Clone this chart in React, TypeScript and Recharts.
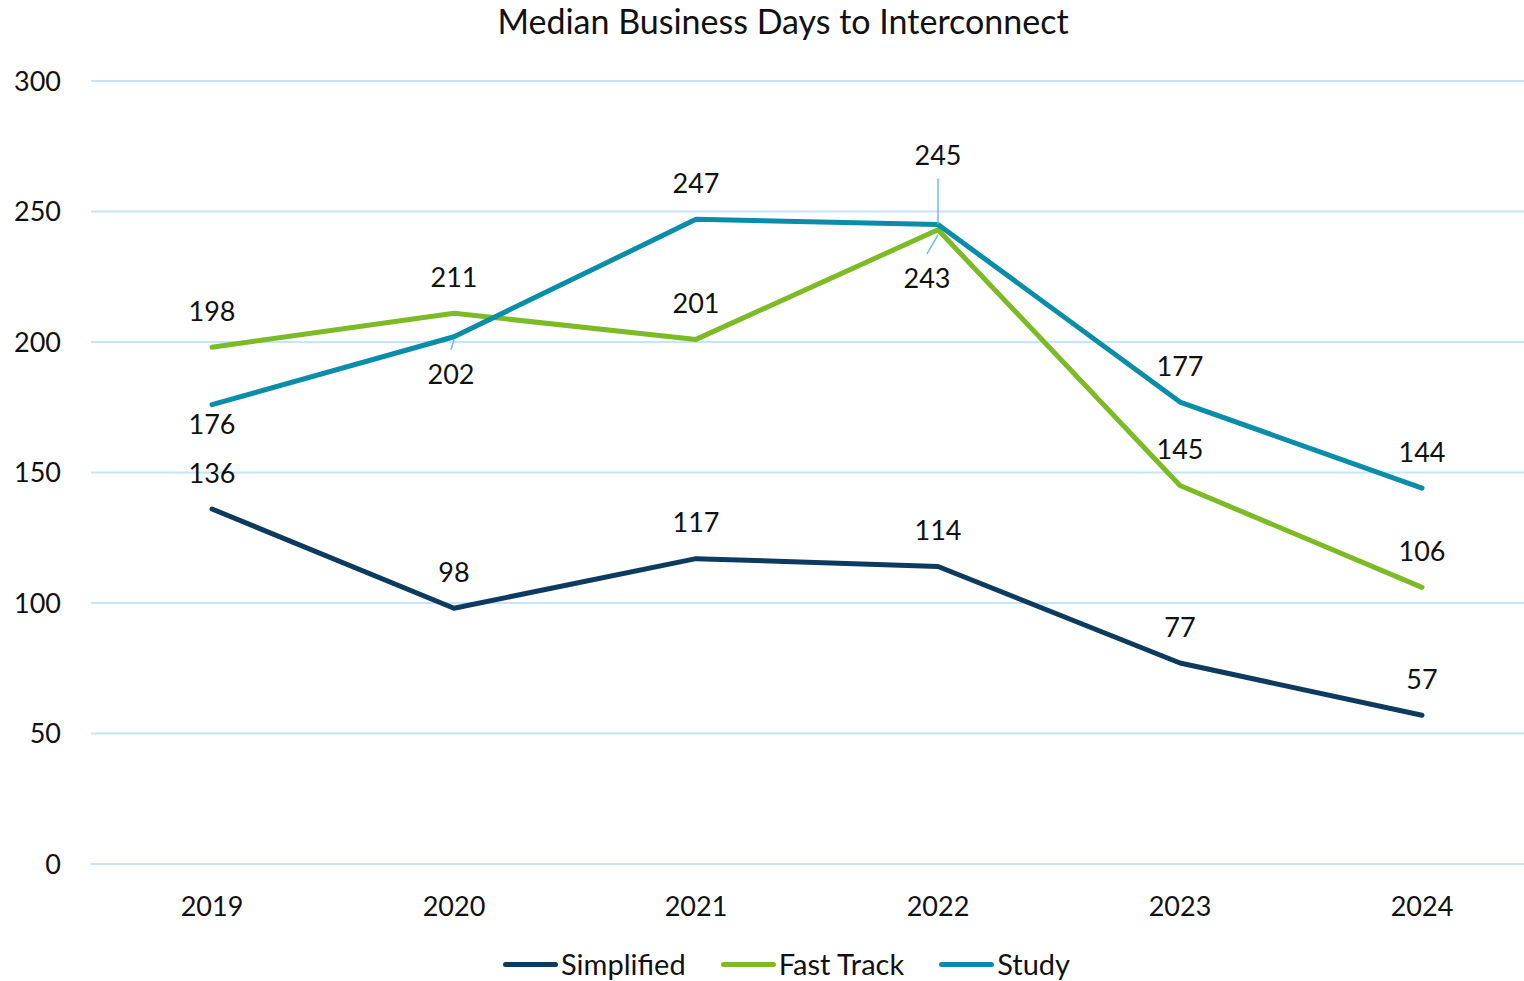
import { LineChart, Line, XAxis, YAxis, CartesianGrid, Legend, LabelList } from "recharts";

const years = ["2019", "2020", "2021", "2022", "2023", "2024"];
const simplified = [136, 98, 117, 114, 77, 57];
const fastTrack = [198, 211, 201, 243, 145, 106];
const study = [176, 202, 247, 245, 177, 144];
const yTicks = [0, 50, 100, 150, 200, 250, 300];

const seriesInfo = [
  { key: "simplified", name: "Simplified", color: "#0d3a5f" },
  { key: "fastTrack", name: "Fast Track", color: "#7dbb26" },
  { key: "study", name: "Study", color: "#0a8da9" },
];

const data = years.map((year, i) => ({
  year,
  simplified: simplified[i],
  fastTrack: fastTrack[i],
  study: study[i],
}));

const FONT = "Lato, 'Noto Sans', sans-serif";
const LEADER = "#6cbdf0";

// where each data label sits relative to its point (dy to label centre)
type Place = { dx?: number; dy: number; leader?: [number, number, number, number] };
const above: Place = { dy: -37 };
const placements: Record<string, Place[]> = {
  simplified: [above, above, above, above, above, above],
  fastTrack: [above, above, above, { dx: -11, dy: 48, leader: [0, 5, -11, 24] }, above, above],
  study: [
    { dy: 19 },
    { dx: -3, dy: 37, leader: [0, 3, -3, 13] },
    above,
    { dy: -70, leader: [0, -46, 0, 0] },
    above,
    above,
  ],
};

const makeLabel = (key: string) => (props: any) => {
  const { x, y, value, index } = props;
  const p = placements[key][index] || above;
  const dx = p.dx || 0;
  return (
    <g key={`${key}-${index}`}>
      {p.leader && (
        <line
          x1={x + p.leader[0]}
          y1={y + p.leader[1]}
          x2={x + p.leader[2]}
          y2={y + p.leader[3]}
          stroke={LEADER}
          strokeWidth={1.5}
        />
      )}
      <text
        x={x + dx}
        y={y + p.dy}
        textAnchor="middle"
        dominantBaseline="central"
        fill="#111"
        fontSize={27}
        fontFamily={FONT}
      >
        {value}
      </text>
    </g>
  );
};

const renderLegend = () => (
  <div
    style={{
      display: "flex",
      justifyContent: "center",
      alignItems: "center",
      gap: 35,
      paddingTop: 27,
      fontFamily: FONT,
      fontSize: 29,
      lineHeight: "32px",
      color: "#111",
      paddingLeft: 30,
    }}
  >
    {seriesInfo.map((s) => (
      <span key={s.key} style={{ display: "flex", alignItems: "center" }}>
        <span
          style={{
            display: "inline-block",
            width: 55,
            height: 5,
            borderRadius: 3,
            background: s.color,
            marginRight: 3,
          }}
        />
        {s.name}
      </span>
    ))}
  </div>
);

export default function App() {
  return (
    <div
      style={{
        position: "fixed",
        top: 0,
        left: 0,
        width: 1524,
        height: 981,
        overflow: "hidden",
        background: "#fff",
      }}
    >
      <div
        style={{
          position: "absolute",
          top: 0,
          left: 0,
          width: 1566,
          textAlign: "center",
          fontFamily: FONT,
          fontSize: 34,
          color: "#111",
          zIndex: 2,
        }}
      >
        Median Business Days to Interconnect
      </div>
      <LineChart
        width={1543}
        height={981}
        data={data}
        margin={{ top: 81, right: 0, left: 0, bottom: 0 }}
      >
        <CartesianGrid vertical={false} stroke="#c6e4fa" strokeWidth={2} />
        <XAxis
          dataKey="year"
          height={57}
          axisLine={false}
          tickLine={false}
          padding={{ left: 121, right: 121 }}
          tickMargin={27}
          tick={{ fill: "#111", fontSize: 27, fontFamily: FONT }}
        />
        <YAxis
          width={91}
          domain={[0, 300]}
          ticks={yTicks}
          axisLine={false}
          tickLine={false}
          tickMargin={24}
          tick={{ fill: "#111", fontSize: 27, fontFamily: FONT }}
        />
        <Legend
          verticalAlign="bottom"
          content={renderLegend}
          wrapperStyle={{ height: 60 }}
        />
        {seriesInfo.map((s) => (
          <Line
            key={s.key}
            dataKey={s.key}
            name={s.name}
            stroke={s.color}
            strokeWidth={5}
            strokeLinecap="round"
            strokeLinejoin="round"
            dot={false}
            activeDot={false}
            isAnimationActive={false}
          >
            <LabelList dataKey={s.key} content={makeLabel(s.key)} />
          </Line>
        ))}
      </LineChart>
    </div>
  );
}
